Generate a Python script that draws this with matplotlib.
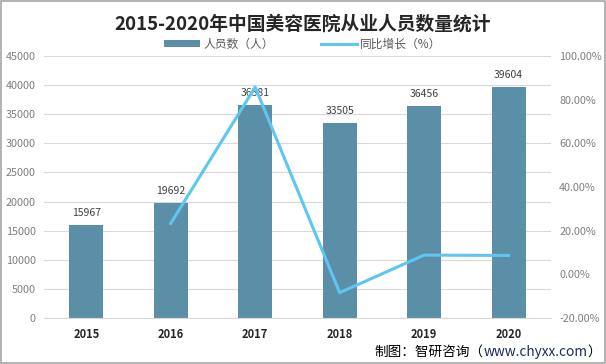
import matplotlib
matplotlib.use("Agg")
import matplotlib.pyplot as plt
from matplotlib.ticker import FuncFormatter
import numpy as np

plt.rcParams['font.family'] = ['Noto Sans CJK SC', 'DejaVu Sans']

years = ['2015', '2016', '2017', '2018', '2019', '2020']
staff = [15967, 19692, 36581, 33505, 36456, 39604]
growth = [None, 23.33, 85.77, -8.41, 8.81, 8.64]

fig = plt.figure(figsize=(6.06, 3.64), dpi=100)
ax = fig.add_axes([0.0726, 0.1264, 0.8364, 0.7196])
x = np.arange(len(years))
bar_color = '#5b8fa7'
line_color = '#5ec6f0'
bars = ax.bar(x, staff, width=0.4, color=bar_color, zorder=2, label='人员数（人）')
ax.set_xlim(-0.5, len(years) - 0.5)
ax.set_ylim(0, 45000)
ax.set_yticks(np.arange(0, 45001, 5000))
ax.grid(axis='y', color='#d9d9d9', linewidth=0.8, zorder=0)
for s in ['top', 'right', 'left']:
    ax.spines[s].set_visible(False)
ax.spines['bottom'].set_color('#d9d9d9')
ax.tick_params(axis='both', length=0)
ax.tick_params(axis='y', labelsize=7.8, labelcolor='#7f7f7f', pad=6)
ax.set_xticks(x)
ax.set_xticklabels(years, fontsize=8, fontweight='bold', color='#262626')
ax.tick_params(axis='x', pad=7)
for xi, v in zip(x, staff):
    ax.text(xi, v + 1200, str(v), ha='center', va='bottom', fontsize=7.5, color='#404040')

ax2 = ax.twinx()
ax2.set_ylim(-20, 100)
ax2.set_yticks(np.arange(-20, 101, 20))
ax2.yaxis.set_major_formatter(FuncFormatter(lambda v, p: f'{v:.2f}%'))
gx = [xi for xi, g in zip(x, growth) if g is not None]
gy = [g for g in growth if g is not None]
ax2.plot(gx, gy, color=line_color, linewidth=2.2, zorder=3, label='同比增长（%）')
for s in ['top', 'right', 'left', 'bottom']:
    ax2.spines[s].set_visible(False)
ax2.tick_params(axis='y', length=0, labelsize=7.8, labelcolor='#7f7f7f', pad=6)

fig.text(0.5, 0.935, '2015-2020年中国美容医院从业人员数量统计', ha='center', va='center',
         fontsize=13.5, fontweight='bold', color='#262626')
h1, l1 = ax.get_legend_handles_labels()
h2, l2 = ax2.get_legend_handles_labels()
fig.legend(h1 + h2, l1 + l2, loc='center', bbox_to_anchor=(0.5, 0.878), ncol=2, frameon=False,
           fontsize=8.5, labelcolor='#595959', handlelength=3.0, handleheight=0.6,
           handletextpad=0.3, columnspacing=4.0)

# footer: black prefix, navy URL, black closing bracket
fig.canvas.draw()
renderer = fig.canvas.get_renderer()
inv = fig.transFigure.inverted()
xr = 0.992
yf = 0.033
t3 = fig.text(xr, yf, '）', ha='right', va='center', fontsize=9.8, color='#000000')
bb = t3.get_window_extent(renderer)
x2 = inv.transform((bb.x0, 0))[0]
t2 = fig.text(x2, yf, 'www.chyxx.com', ha='right', va='center', fontsize=9.8, color='#1f2a5c')
bb = t2.get_window_extent(renderer)
x1 = inv.transform((bb.x0, 0))[0]
fig.text(x1, yf, '制图：智研咨询（', ha='right', va='center', fontsize=9.8, color='#000000')

border = plt.Rectangle((0.002, 0.003), 0.996, 0.994, transform=fig.transFigure, fill=False,
                       edgecolor='#a6a6a6', linewidth=1.2)
fig.patches.append(border)

fig.savefig('out.png', dpi=100)
